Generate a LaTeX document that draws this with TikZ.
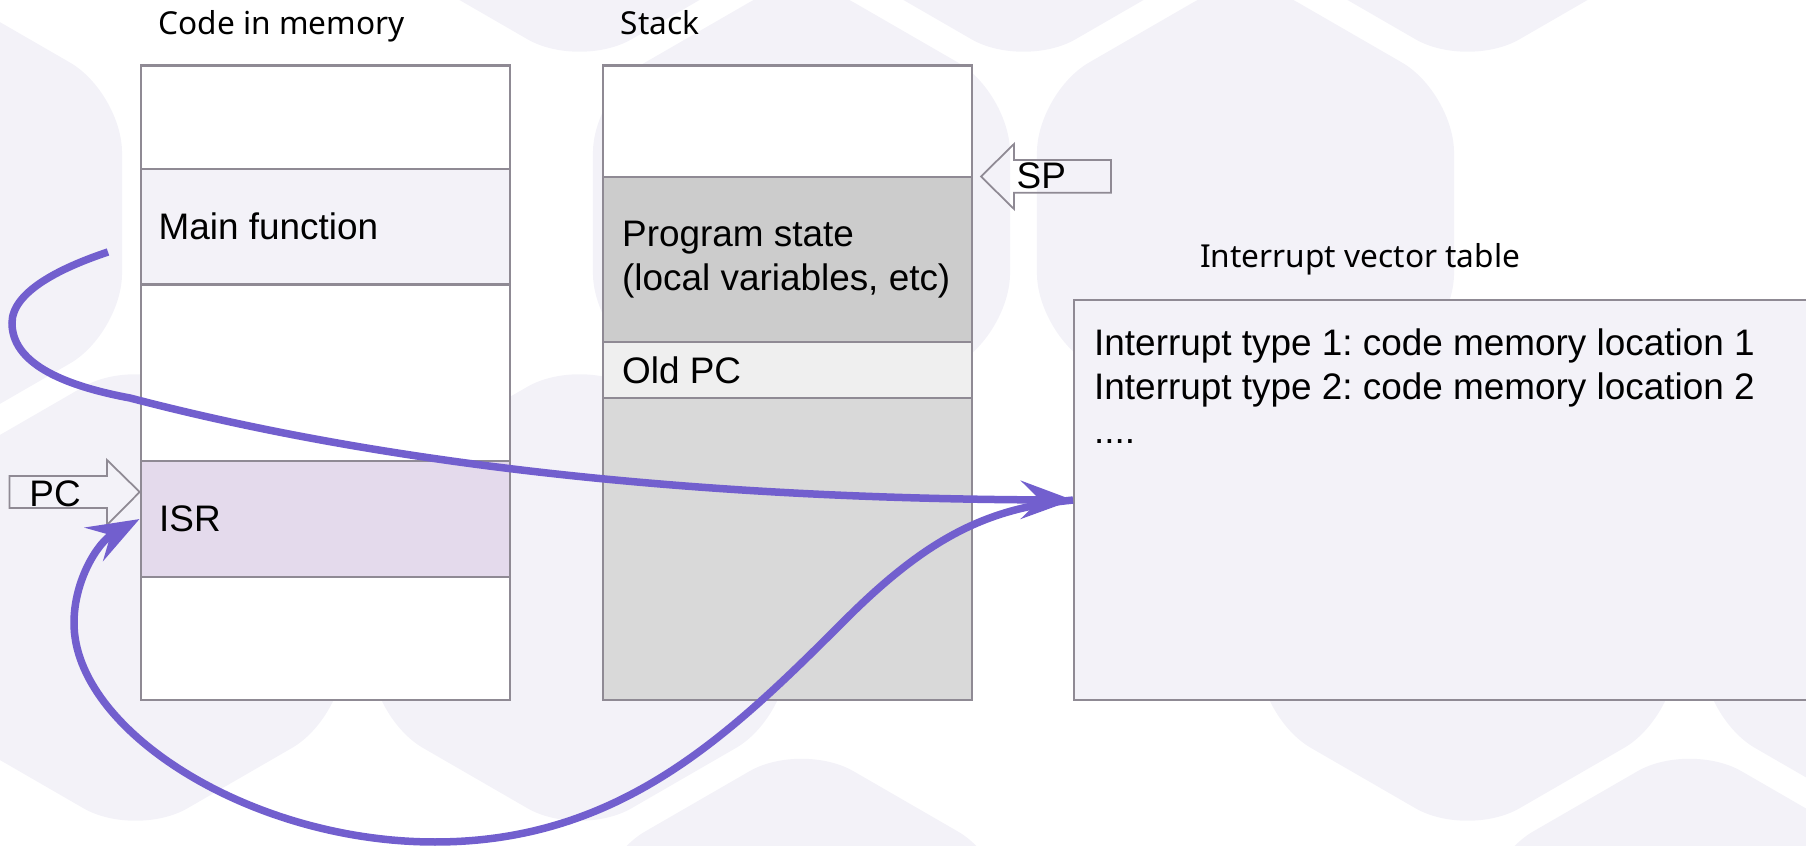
\documentclass[tikz,border=0pt]{standalone}
\usepackage{fontspec}
\setmainfont{Liberation Sans}
\newfontfamily\titlefont{Noto Sans}
\usetikzlibrary{arrows.meta}
\frenchspacing

\definecolor{hexbg}{RGB}{243,242,248}
\definecolor{edgegray}{RGB}{143,138,148}
\definecolor{mainfill}{RGB}{243,242,248}
\definecolor{isrfill}{RGB}{228,218,236}
\definecolor{statefill}{RGB}{204,204,204}
\definecolor{oldpcfill}{RGB}{239,239,239}
\definecolor{freefill}{RGB}{217,217,217}
\definecolor{irqpurple}{RGB}{114,95,206}

\tikzset{
  cell/.style={draw=edgegray, line width=0.6pt, anchor=north west, inner sep=0pt, minimum width=3.69cm},
  celltext/.style={anchor=west, inner sep=0pt, align=left, font=\fontsize{10.5}{12.3}\selectfont},
  heading/.style={anchor=base west, inner sep=0pt, font=\titlefont\fontsize{9}{11}\selectfont},
  pointer/.style={draw=edgegray, line width=0.5pt, line join=miter},
  irqline/.style={draw=irqpurple, line width=0.075cm, -{Stealth[length=0.52cm,width=0.38cm,inset=0.19cm]}},
}

\begin{document}
\begin{tikzpicture}[y=-1cm]
  \useasboundingbox (0,0) rectangle (18.06,8.46);
  \clip (0,0) rectangle (18.06,8.46);
  % background honeycomb
  \foreach \hx/\hy in {5.795/-1.715, 10.235/-1.715, 14.675/-1.715,
                       -0.865/2.13, 8.015/2.13, 12.455/2.13,
                       1.355/5.975, 5.795/5.975, 14.675/5.975, 19.115/5.975,
                       8.015/9.82, 16.895/9.82}
    \fill[hexbg, rounded corners=0.6cm] (\hx,\hy) +(90:2.408) -- +(30:2.408) -- +(-30:2.408)
      -- +(-90:2.408) -- +(-150:2.408) -- +(150:2.408) -- cycle;

  % code in memory
  \node[heading] (codehead) at (1.58,0.343) {Code in memory};
  \node[cell, fill=white, minimum height=1.035cm] (codetop) at (1.395,0.645) {};
  \node[cell, fill=mainfill, minimum height=1.155cm] (main) at (1.395,1.68) {};
  \node[cell, fill=white, minimum height=1.765cm] (codemid) at (1.395,2.835) {};
  \node[cell, fill=isrfill, minimum height=1.16cm] (isr) at (1.395,4.60) {};
  \node[cell, fill=white, minimum height=1.23cm] (codebot) at (1.395,5.76) {};
  \node[celltext] (maintext) at ([xshift=0.185cm]main.west) {Main function};
  \node[celltext] (isrtext) at ([xshift=0.19cm]isr.west) {ISR};

  % stack
  \node[heading] (stackhead) at (6.20,0.343) {Stack};
  \node[cell, fill=white, minimum height=1.115cm] (stacktop) at (6.02,0.645) {};
  \node[cell, fill=statefill, minimum height=1.65cm] (state) at (6.02,1.76) {};
  \node[cell, fill=oldpcfill, minimum height=0.56cm] (oldpc) at (6.02,3.41) {};
  \node[cell, fill=freefill, minimum height=3.02cm] (stackfree) at (6.02,3.97) {};
  \node[celltext] (statetext) at ([xshift=0.195cm]state.west) {Program state\\(local variables, etc)};
  \node[celltext] (oldpctext) at ([xshift=0.195cm]oldpc.west) {Old PC};

  % interrupt vector table
  \node[heading] (ivthead) at (11.995,2.68) {Interrupt vector table};
  \node[cell, fill=mainfill, minimum width=7.8cm, minimum height=4.0cm] (ivt) at (10.73,2.99) {};
  \node[celltext, anchor=north west, font=\fontsize{10.5}{12.5}\selectfont] (ivttext) at (10.935,3.28)
    {Interrupt type 1: code memory location 1\\Interrupt type 2: code memory location 2\\....};

  % PC and SP pointers
  \draw[pointer] (0.096,4.76) -- (1.07,4.76) -- (1.07,4.60) -- (1.397,4.92) -- (1.07,5.25)
    -- (1.07,5.08) -- (0.096,5.08) -- cycle;
  \node[celltext, anchor=base west] (pclabel) at (0.287,5.06) {PC};
  \draw[pointer] (9.81,1.765) -- (10.14,1.44) -- (10.14,1.60) -- (11.11,1.60) -- (11.11,1.927)
    -- (10.14,1.927) -- (10.14,2.09) -- cycle;
  \node[celltext, anchor=base west] (splabel) at (10.16,1.89) {SP};

  % interrupt path
  \coordinate (mainexit) at (1.08,2.52);
  \draw[irqline] (mainexit) .. controls (0.60,2.68) and (0.12,2.92) .. (0.12,3.23)
    .. controls (0.12,3.62) and (0.6,3.85) .. (1.30,3.98)
    .. controls (3.1,4.45) and (6.0,4.98) .. (ivt.west);
  \draw[irqline] (ivt.west) .. controls (9.9,5.08) and (9.3,5.35) .. (8.45,6.2)
    .. controls (7.3,7.35) and (6.2,8.42) .. (4.35,8.42)
    .. controls (2.5,8.42) and (0.74,7.3) .. (0.74,6.23)
    .. controls (0.74,5.80) and (0.98,5.42) .. (isr.west);
\end{tikzpicture}
\end{document}
